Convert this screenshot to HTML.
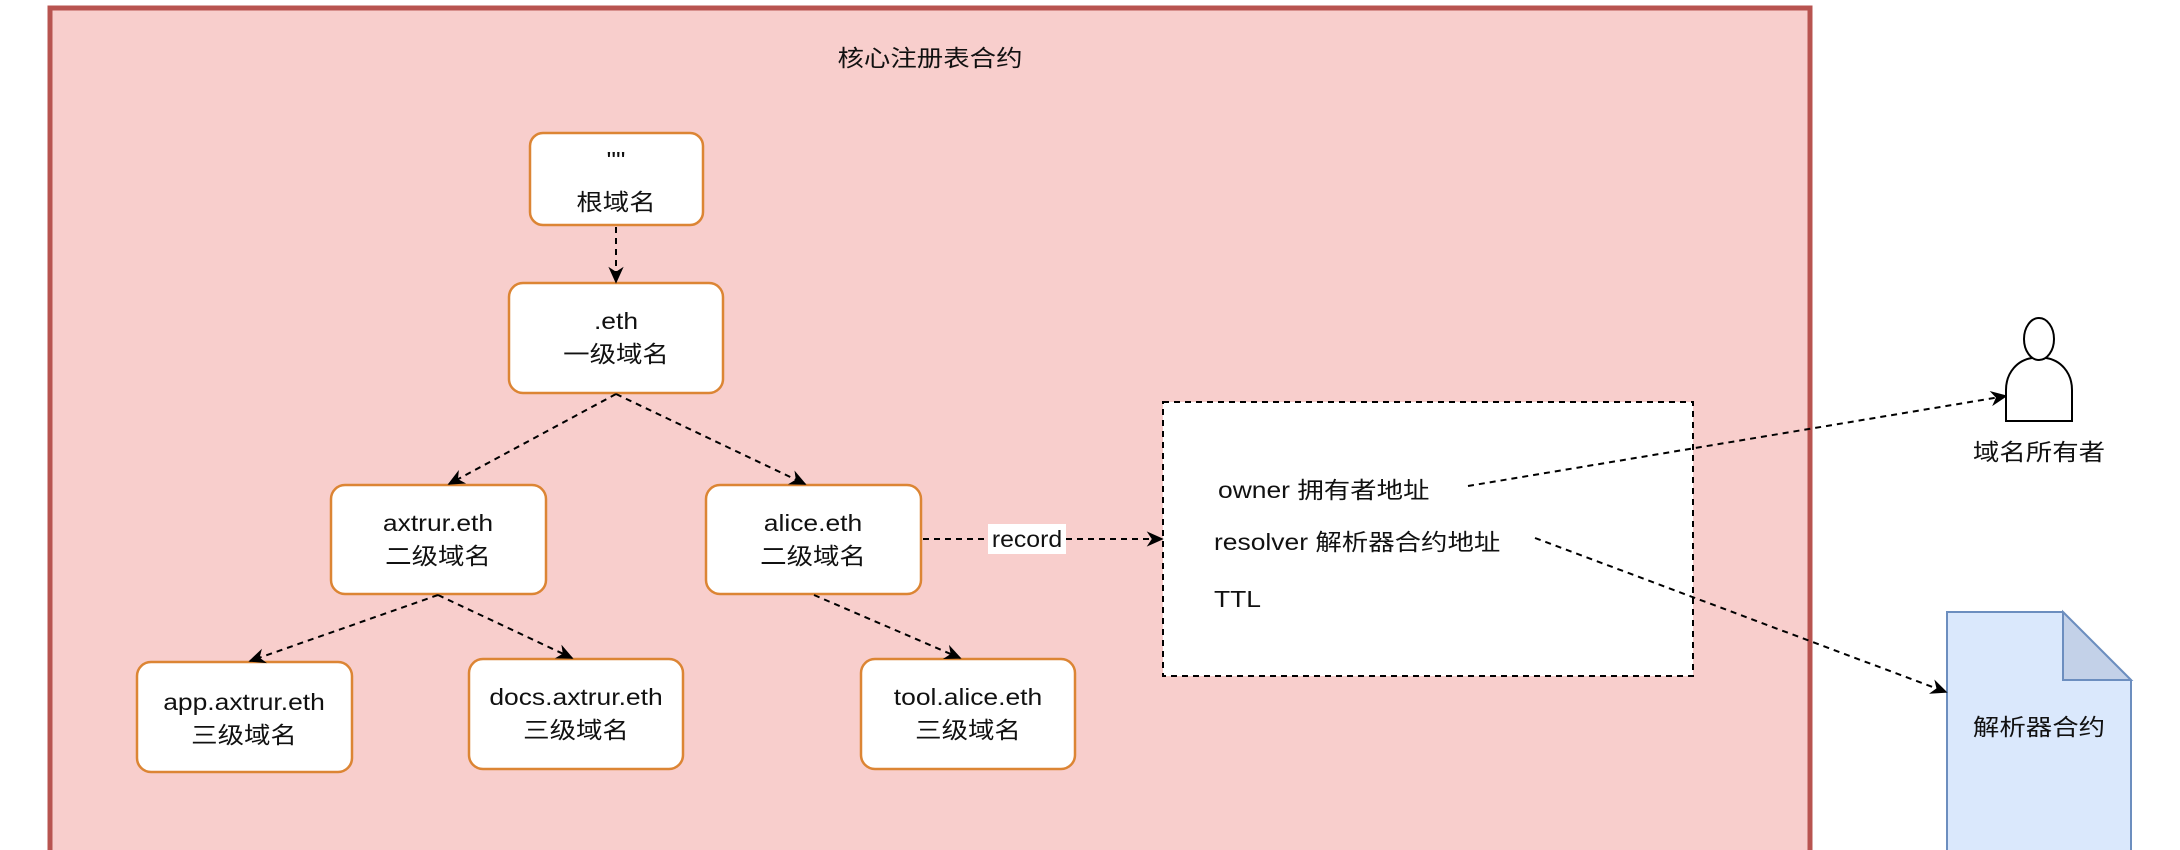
<!DOCTYPE html>
<html><head><meta charset="utf-8"><style>
html,body{margin:0;padding:0;background:#fff;width:2180px;height:850px;overflow:hidden}
svg text{font-family:"Liberation Sans","Noto Sans CJK SC",sans-serif;font-size:23px;fill:#111}
</style></head><body>
<svg width="2180" height="850" viewBox="0 0 2180 850" xmlns="http://www.w3.org/2000/svg">
<defs>
<marker id="a" viewBox="0 0 10 10" refX="9" refY="5" markerWidth="17" markerHeight="17" markerUnits="userSpaceOnUse" orient="auto">
<path d="M0,0.5 L10,5 L0,9.5 L3,5 Z" fill="#000"/></marker>
</defs>
<rect x="50" y="8" width="1760" height="850" fill="#f8cecc" stroke="#b85450" stroke-width="5"/>
<text transform="translate(930,66) scale(1.15 1)" text-anchor="middle">核心注册表合约</text>

<g fill="#fff" stroke="#dc8534" stroke-width="2.5">
<rect x="530" y="133" width="173" height="92" rx="13"/>
<rect x="509" y="283" width="214" height="110" rx="14"/>
<rect x="331" y="485" width="215" height="109" rx="14"/>
<rect x="706" y="485" width="215" height="109" rx="14"/>
<rect x="137" y="662" width="215" height="110" rx="14"/>
<rect x="469" y="659" width="214" height="110" rx="14"/>
<rect x="861" y="659" width="214" height="110" rx="14"/>
</g>
<rect x="1163" y="402" width="530" height="274" fill="#fff" stroke="#000" stroke-width="2" stroke-dasharray="6 5"/>

<path d="M1947,612 L2063,612 L2131,680 L2131,852 L1947,852 Z" fill="#dae8fc" stroke="#6c8ebf" stroke-width="2"/>
<path d="M2063,612 L2063,680 L2131,680 Z" fill="#c3d1e8" stroke="#6c8ebf" stroke-width="2"/>

<g stroke="#000" stroke-width="2" stroke-dasharray="6 5" fill="none" marker-end="url(#a)">
<line x1="616" y1="227" x2="616" y2="282"/>
<line x1="616" y1="394" x2="449" y2="484"/>
<line x1="616" y1="394" x2="805" y2="484"/>
<line x1="438" y1="595" x2="250" y2="661"/>
<line x1="438" y1="595" x2="572" y2="658"/>
<line x1="814" y1="595" x2="960" y2="658"/>
<line x1="923" y1="539" x2="1162" y2="539"/>
<line x1="1468" y1="486" x2="2006" y2="396"/>
<line x1="1535" y1="538" x2="1946" y2="692"/>
</g>
<rect x="988" y="524" width="78" height="30" fill="#fff"/>
<text transform="translate(1027,547) scale(1.08 1)" text-anchor="middle">record</text>

<g text-anchor="middle">
<text transform="translate(616,168) scale(1.15 1)">""</text>
<text transform="translate(616,210) scale(1.15 1)">根域名</text>
<text transform="translate(616,329) scale(1.15 1)">.eth</text>
<text transform="translate(616,362) scale(1.15 1)">一级域名</text>
<text transform="translate(438,531) scale(1.15 1)">axtrur.eth</text>
<text transform="translate(438,564) scale(1.15 1)">二级域名</text>
<text transform="translate(813,531) scale(1.15 1)">alice.eth</text>
<text transform="translate(813,564) scale(1.15 1)">二级域名</text>
<text transform="translate(244,710) scale(1.15 1)">app.axtrur.eth</text>
<text transform="translate(244,743) scale(1.15 1)">三级域名</text>
<text transform="translate(576,705) scale(1.15 1)">docs.axtrur.eth</text>
<text transform="translate(576,738) scale(1.15 1)">三级域名</text>
<text transform="translate(968,705) scale(1.15 1)">tool.alice.eth</text>
<text transform="translate(968,738) scale(1.15 1)">三级域名</text>
<text transform="translate(2039,460) scale(1.15 1)">域名所有者</text>
<text transform="translate(2039,735) scale(1.15 1)">解析器合约</text>
</g>
<text transform="translate(1218,498) scale(1.15 1)">owner 拥有者地址</text>
<text transform="translate(1214,550) scale(1.15 1)">resolver 解析器合约地址</text>
<text transform="translate(1214,607) scale(1.15 1)">TTL</text>

<g stroke="#000" stroke-width="2" fill="#fff">
<path d="M2006,421 L2006,390 C2006,372 2018,360 2032,358 L2046,358 C2060,360 2072,372 2072,390 L2072,421 Z"/>
<ellipse cx="2039" cy="339" rx="15" ry="21"/>
</g>
</svg>
</body></html>
